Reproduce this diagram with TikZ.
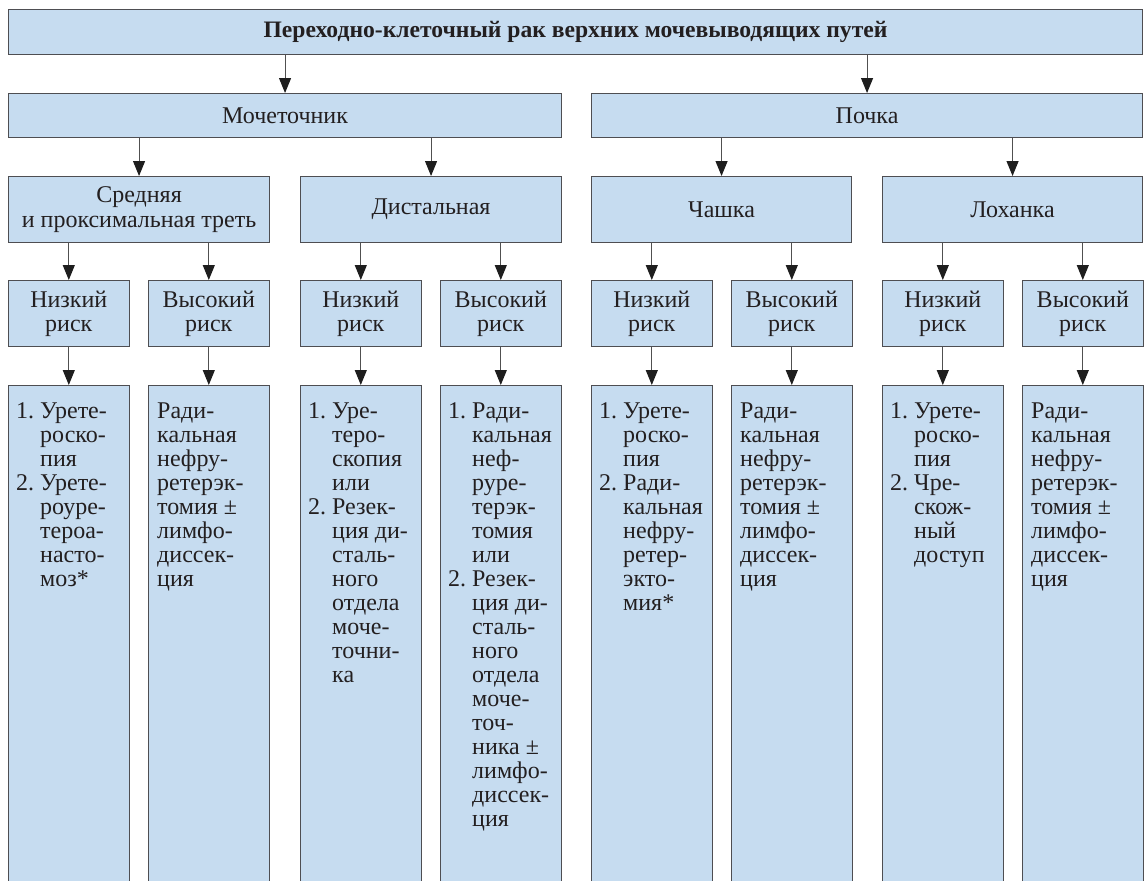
\documentclass[tikz,border=0pt]{standalone}
\usepackage{fontspec}
\setmainfont{Liberation Serif}
\usetikzlibrary{arrows.meta}
\definecolor{boxfill}{RGB}{198,220,240}
\definecolor{boxline}{RGB}{78,78,82}
\definecolor{arrline}{RGB}{80,80,80}
\definecolor{headcol}{RGB}{30,30,30}
\definecolor{txtcol}{RGB}{35,31,32}
\newcommand{\fsz}{\fontsize{24}{24}\selectfont}
\newcommand{\ind}{\hphantom{1.~}}
\newcommand{\lst}[1]{\parbox[t]{118pt}{\raggedright\fsz #1}}
\begin{document}
\begin{tikzpicture}[x=1pt,y=-1pt,
  box/.style={draw=boxline, fill=boxfill, line width=1.1pt, anchor=north west,
    inner sep=0pt, align=center, font=\fsz, text=txtcol},
  lvl/.style={box, minimum width=120.5pt, minimum height=66pt},
  tall/.style={box, minimum width=120.5pt, minimum height=540pt},
  arr/.style={draw=arrline, line width=1.1pt,
    -{Triangle[length=15pt,width=12pt,fill=headcol,color=headcol]}},
  txt/.style={anchor=base west, inner sep=0pt, text=txtcol}]
\clip (0,0) rectangle (1144,881);
\fill[white] (0,0) rectangle (1144,881);
% level 1
\node[box, minimum width=1134pt, minimum height=45pt, font=\fontsize{23.6}{24}\selectfont\bfseries] (top) at (8,9)
  {Переходно-клеточный рак верхних мочевыводящих путей};
% level 2
\node[box, minimum width=553pt, minimum height=44pt] (mo) at (8,93) {Мочеточник};
\node[box, minimum width=551pt, minimum height=44pt] (po) at (591,93) {Почка};
% level 3
\node[box, minimum width=261pt, minimum height=66pt] (sr) at (8,176) {Средняя\\[1pt]и проксимальная треть};
\node[box, minimum width=261pt, minimum height=66pt] (di) at (300,176) {Дистальная};
\node[box, minimum width=260pt, minimum height=66pt] (ch) at (591,176) {Чашка};
\node[box, minimum width=260pt, minimum height=66pt] (lo) at (882,176) {Лоханка};
% level 4
\node[lvl] (r1) at (8,280) {Низкий\\риск};
\node[lvl] (r2) at (148,280) {Высокий\\риск};
\node[lvl] (r3) at (300,280) {Низкий\\риск};
\node[lvl] (r4) at (440,280) {Высокий\\риск};
\node[lvl] (r5) at (591,280) {Низкий\\риск};
\node[lvl] (r6) at (731,280) {Высокий\\риск};
\node[lvl] (r7) at (882,280) {Низкий\\риск};
\node[lvl] (r8) at (1022,280) {Высокий\\риск};
% level 5
\node[tall] (b1) at (8,385) {};
\node[tall] (b2) at (148,385) {};
\node[tall] (b3) at (300,385) {};
\node[tall] (b4) at (440,385) {};
\node[tall] (b5) at (591,385) {};
\node[tall] (b6) at (731,385) {};
\node[tall] (b7) at (882,385) {};
\node[tall] (b8) at (1022,385) {};
% texts
\node[txt] (t1) at (16,418) {\lst{1.~Урете-\\\ind роско-\\\ind пия\\2.~Урете-\\\ind роуре-\\\ind тероа-\\\ind насто-\\\ind моз*}};
\node[txt] (t2) at (157,418) {\lst{Ради-\\кальная\\нефру-\\ретерэк-\\томия ±\\лимфо-\\диссек-\\ция}};
\node[txt] (t3) at (308,418) {\lst{1.~Уре-\\\ind теро-\\\ind скопия\\\ind или\\2.~Резек-\\\ind ция ди-\\\ind сталь-\\\ind ного\\\ind отдела\\\ind моче-\\\ind точни-\\\ind ка}};
\node[txt] (t4) at (448,418) {\lst{1.~Ради-\\\ind кальная\\\ind неф-\\\ind руре-\\\ind терэк-\\\ind томия\\\ind или\\2.~Резек-\\\ind ция ди-\\\ind сталь-\\\ind ного\\\ind отдела\\\ind моче-\\\ind точ-\\\ind ника ±\\\ind лимфо-\\\ind диссек-\\\ind ция}};
\node[txt] (t5) at (599,418) {\lst{1.~Урете-\\\ind роско-\\\ind пия\\2.~Ради-\\\ind кальная\\\ind нефру-\\\ind ретер-\\\ind экто-\\\ind мия*}};
\node[txt] (t6) at (740,418) {\lst{Ради-\\кальная\\нефру-\\ретерэк-\\томия ±\\лимфо-\\диссек-\\ция}};
\node[txt] (t7) at (890,418) {\lst{1.~Урете-\\\ind роско-\\\ind пия\\2.~Чре-\\\ind скож-\\\ind ный\\\ind доступ}};
\node[txt] (t8) at (1031,418) {\lst{Ради-\\кальная\\нефру-\\ретерэк-\\томия ±\\лимфо-\\диссек-\\ция}};
% arrows
\draw[arr] (top.south -| mo.north) -- (mo.north);
\draw[arr] (top.south -| po.north) -- (po.north);
\draw[arr] (mo.south -| sr.north) -- (sr.north);
\draw[arr] (mo.south -| di.north) -- (di.north);
\draw[arr] (po.south -| ch.north) -- (ch.north);
\draw[arr] (po.south -| lo.north) -- (lo.north);
\draw[arr] (sr.south -| r1.north) -- (r1.north);
\draw[arr] (sr.south -| r2.north) -- (r2.north);
\draw[arr] (di.south -| r3.north) -- (r3.north);
\draw[arr] (di.south -| r4.north) -- (r4.north);
\draw[arr] (ch.south -| r5.north) -- (r5.north);
\draw[arr] (ch.south -| r6.north) -- (r6.north);
\draw[arr] (lo.south -| r7.north) -- (r7.north);
\draw[arr] (lo.south -| r8.north) -- (r8.north);
\foreach \i in {1,...,8}{\draw[arr] (r\i.south) -- (b\i.north);}
\end{tikzpicture}
\end{document}
